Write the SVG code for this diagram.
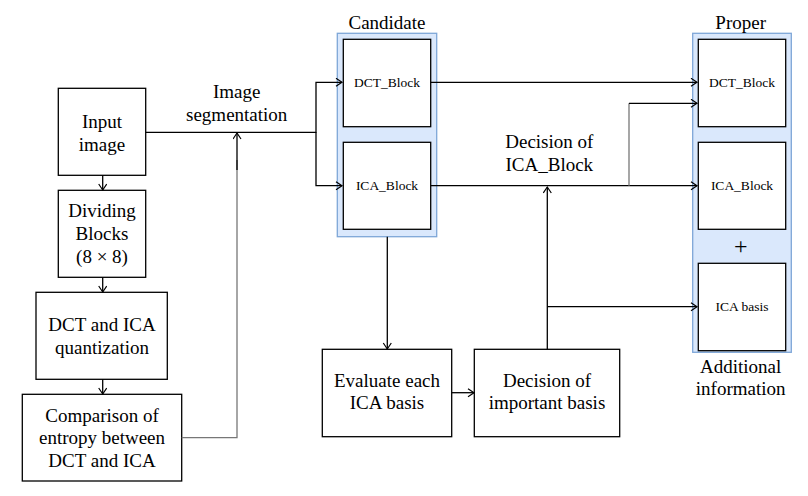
<svg xmlns="http://www.w3.org/2000/svg" width="808" height="496" viewBox="0 0 808 496">
<style>
.box{fill:#fff;stroke:#000;stroke-width:1.3}
.grp{fill:#dae8fc;stroke:#7ea6d8;stroke-width:1.3}
text{font-family:'Liberation Serif','DejaVu Serif',serif;fill:#000;text-anchor:middle}
.t{font-size:19px}
.s{font-size:13.5px}
.c{fill:none;stroke:#000;stroke-width:1.3}
.g{stroke:#777}
</style>
<defs>
<marker id="a" markerUnits="userSpaceOnUse" markerWidth="10" markerHeight="10" refX="7" refY="4.5" orient="auto">
<path d="M1,0.5 L7,4.5 L1,8.5" fill="none" stroke="#000" stroke-width="1.2"/>
</marker>
</defs>
<rect width="808" height="496" fill="#fff"/>
<g id="candidate">
<rect class="grp" x="337.3" y="33.3" width="99.4" height="203.4"/>
<text class="t" x="387" y="29" font-family="Liberation Serif, serif">Candidate</text>
</g>
<g id="cand-dct">
<rect class="box" x="343.3" y="39.3" width="87.4" height="87.4"/>
<text class="s" x="387" y="87">DCT_Block</text>
</g>
<g id="cand-ica">
<rect class="box" x="343.3" y="142.3" width="87.4" height="87"/>
<text class="s" x="387" y="190">ICA_Block</text>
</g>
<g id="proper">
<rect class="grp" x="692.7" y="33.3" width="98.6" height="319"/>
<text class="t" x="740.7" y="29">Proper</text>
<text class="t" x="740.7" y="254" style="font-size:24px">+</text>
<text class="t" x="740.7" y="372.7">Additional</text>
<text class="t" x="740.7" y="395">information</text>
</g>
<g id="prop-dct">
<rect class="box" x="698.3" y="39.3" width="87.4" height="87.4"/>
<text class="s" x="742" y="87">DCT_Block</text>
</g>
<g id="prop-ica">
<rect class="box" x="698.3" y="142.3" width="87.4" height="87"/>
<text class="s" x="742" y="190">ICA_Block</text>
</g>
<g id="ica-basis">
<rect class="box" x="698.3" y="263.3" width="87.4" height="87.4"/>
<text class="s" x="742" y="311">ICA basis</text>
</g>
<g id="input">
<rect class="box" x="58.3" y="88.3" width="87.4" height="87"/>
<text class="t" x="102" y="128">Input</text>
<text class="t" x="102" y="150.7">image</text>
</g>
<g id="dividing">
<rect class="box" x="58.3" y="190.3" width="87.4" height="87"/>
<text class="t" x="102" y="216.7">Dividing</text>
<text class="t" x="102" y="240">Blocks</text>
<text class="t" x="102" y="263.3">(8 × 8)</text>
</g>
<g id="quant">
<rect class="box" x="36" y="292.3" width="131.3" height="87"/>
<text class="t" x="102" y="330.7">DCT and ICA</text>
<text class="t" x="102" y="354">quantization</text>
</g>
<g id="comparison">
<rect class="box" x="22.3" y="394.3" width="159.4" height="86.7"/>
<text class="t" x="102" y="421.7">Comparison of</text>
<text class="t" x="102" y="444">entropy between</text>
<text class="t" x="102" y="466.7">DCT and ICA</text>
</g>
<g id="evaluate">
<rect class="box" x="322.3" y="349.3" width="129.4" height="87.4"/>
<text class="t" x="387" y="386.7">Evaluate each</text>
<text class="t" x="387" y="409.3">ICA basis</text>
</g>
<g id="decision">
<rect class="box" x="474.3" y="349.3" width="145.4" height="87.4"/>
<text class="t" x="547" y="386.7">Decision of</text>
<text class="t" x="547" y="409.3">important basis</text>
</g>
<g id="labels">
<text class="t" x="236.7" y="98.3">Image</text>
<text class="t" x="236.7" y="120.7">segmentation</text>
<text class="t" x="549.3" y="148.3">Decision of</text>
<text class="t" x="549.3" y="171">ICA_Block</text>
</g>
<g id="connectors">
<path class="c" d="M102.7,175.3 V190" marker-end="url(#a)"/>
<path class="c" d="M102.7,277.3 V292" marker-end="url(#a)"/>
<path class="c" d="M102.7,379.3 V394" marker-end="url(#a)"/>
<path class="c g" d="M181.7,437.7 H237 V160"/>
<path class="c" d="M237,170 V133" marker-end="url(#a)"/>
<path class="c" d="M145.7,132.3 H316 V82.3 H342" marker-end="url(#a)"/>
<path class="c" d="M316,132.3 V185.7 H342" marker-end="url(#a)"/>
<path class="c" d="M430.7,82.3 H697" marker-end="url(#a)"/>
<path class="c" d="M430.7,185.7 H697" marker-end="url(#a)"/>
<path class="c g" d="M629,185.7 V103.3"/>
<path class="c" d="M629,103.3 H697" marker-end="url(#a)"/>
<path class="c" d="M387.3,236.7 V349" marker-end="url(#a)"/>
<path class="c" d="M451.7,392.7 H474" marker-end="url(#a)"/>
<path class="c" d="M547.3,349.3 V187" marker-end="url(#a)"/>
<path class="c" d="M547.3,306.7 H697" marker-end="url(#a)"/>
</g>
</svg>
